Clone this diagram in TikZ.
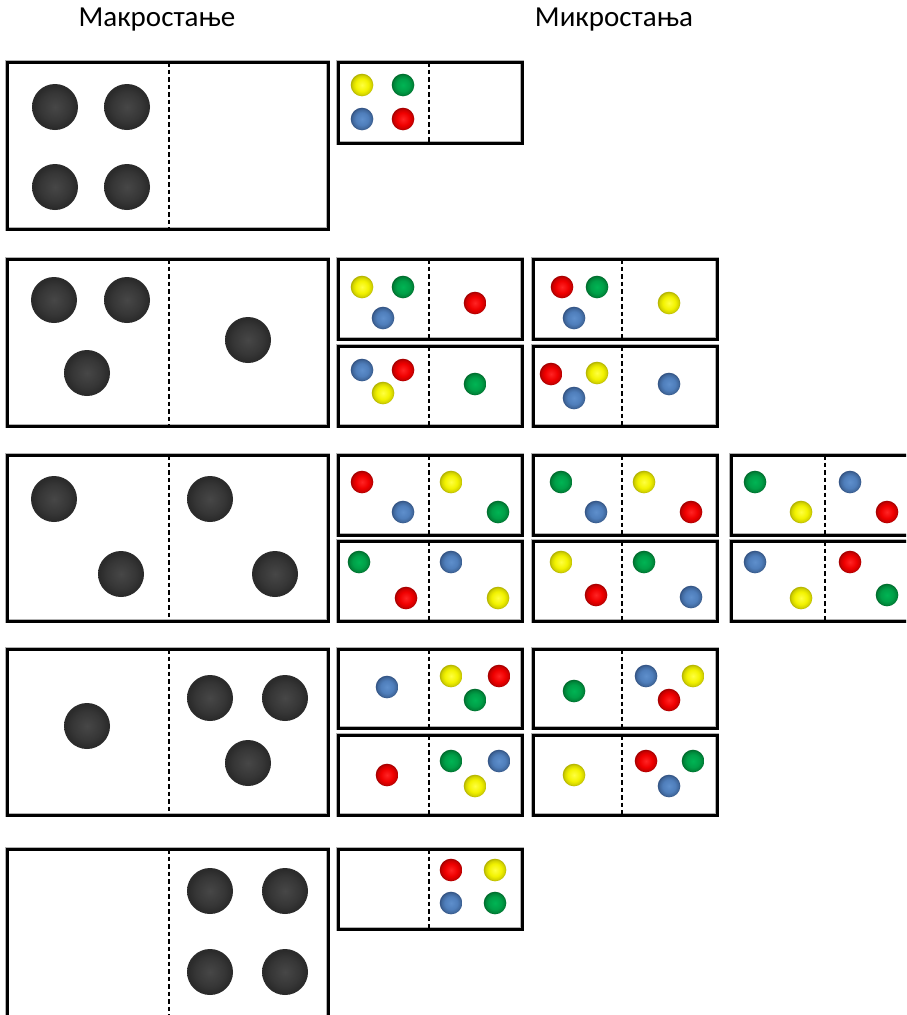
\documentclass[tikz,border=0pt]{standalone}
\usepackage{fontspec}
\setmainfont{Carlito}
\definecolor{dkA}{HTML}{474747}
\definecolor{dkB}{HTML}{363636}
\definecolor{dkC}{HTML}{2B2B2B}
\definecolor{yA}{HTML}{FFFF40}
\definecolor{yB}{HTML}{F2F200}
\definecolor{yC}{HTML}{D4D400}
\definecolor{yD}{HTML}{B0B000}
\definecolor{rA}{HTML}{FF2424}
\definecolor{rB}{HTML}{F00000}
\definecolor{rC}{HTML}{CC0000}
\definecolor{rD}{HTML}{A00000}
\definecolor{gA}{HTML}{00B454}
\definecolor{gB}{HTML}{00A048}
\definecolor{gC}{HTML}{00863A}
\definecolor{gD}{HTML}{006A2C}
\definecolor{bA}{HTML}{5E8FCC}
\definecolor{bB}{HTML}{4F7EBB}
\definecolor{bC}{HTML}{41699E}
\definecolor{bD}{HTML}{325282}
\pgfdeclareradialshading{darkball}{\pgfpoint{0bp}{0bp}}{color(0bp)=(dkA);color(16bp)=(dkB);color(23bp)=(dkC);color(25bp)=(dkC);color(50bp)=(dkC)}
\pgfdeclareradialshading{Yball}{\pgfpoint{0bp}{0bp}}{color(0bp)=(yA);color(14bp)=(yB);color(21bp)=(yC);color(25bp)=(yD);color(50bp)=(yD)}
\pgfdeclareradialshading{Rball}{\pgfpoint{0bp}{0bp}}{color(0bp)=(rA);color(14bp)=(rB);color(21bp)=(rC);color(25bp)=(rD);color(50bp)=(rD)}
\pgfdeclareradialshading{Gball}{\pgfpoint{0bp}{0bp}}{color(0bp)=(gA);color(14bp)=(gB);color(21bp)=(gC);color(25bp)=(gD);color(50bp)=(gD)}
\pgfdeclareradialshading{Bball}{\pgfpoint{0bp}{0bp}}{color(0bp)=(bA);color(14bp)=(bB);color(21bp)=(bC);color(25bp)=(bD);color(50bp)=(bD)}
\newcommand\statebox[5]{%
  \draw[halo] (#1,#2) rectangle (#3,#4);
  \draw[divider] (#5,#2) -- (#5,#4);
  \draw[frame] (#1,#2) rectangle (#3,#4);}
\newcommand\bigball[2]{\shade[shading=darkball] (#1,#2) circle[radius=23];}
\newcommand\smallball[3]{\shade[shading=#1ball] (#2,#3) circle[radius=11.3];}
\begin{document}
\begin{tikzpicture}[x=1pt,y=-1pt,
  frame/.style={draw=black,line width=3pt},
  halo/.style={draw=black!30,line width=4.6pt},
  divider/.style={draw=black,line width=1.2pt,dash pattern=on 4.5pt off 3pt},
  title/.style={font=\fontsize{29}{33}\selectfont,inner sep=0pt,anchor=center}]
\useasboundingbox (0,0) rectangle (906,1015);
\clip (0,0) rectangle (906,1015);
\fill[white] (0,0) rectangle (906,1015);
\node[title] (macro) at (157,20) {Макростање};
\node[title] (micro) at (614,20) {Микростања};
% macrostate boxes
\statebox{7}{62}{328}{229}{169}
\statebox{7}{259}{328}{426}{169}
\statebox{7}{455}{328}{621}{169}
\statebox{7}{649}{328}{815}{169}
\statebox{7}{849}{328}{1019}{169}
% microstate boxes
\statebox{338}{62}{522}{143}{429}
\statebox{338}{259}{522}{339}{429}
\statebox{533}{259}{717}{339}{622}
\statebox{338}{346}{522}{426}{429}
\statebox{533}{346}{717}{426}{622}
\statebox{338}{455}{522}{535}{429}
\statebox{533}{455}{717}{535}{622}
\statebox{731}{455}{915}{535}{825}
\statebox{338}{541}{522}{621}{429}
\statebox{533}{541}{717}{621}{622}
\statebox{731}{541}{915}{621}{825}
\statebox{338}{649}{522}{728}{429}
\statebox{533}{649}{717}{728}{622}
\statebox{338}{735}{522}{815}{429}
\statebox{533}{735}{717}{815}{622}
\statebox{338}{849}{522}{929}{429}
% macro balls
\foreach \x/\y in {55/107,127/107,55/187,127/187,
  54/300,127/300,87/373,248/340,
  54/499,121/574,210/499,275/574,
  87/726,210/698,285/698,248/763,
  210/891,285/891,210/972,285/972}
  {\bigball{\x}{\y}}
% micro balls
\foreach \c/\x/\y in {Y/362/85,G/403/85,B/362/119,R/403/119,
  Y/362/287,G/403/287,B/383/318,R/475/303,
  R/562/287,G/597/287,B/574/318,Y/669/303,
  B/362/370,R/403/370,Y/383/393,G/475/384,
  R/551/374,Y/597/373,B/574/398,B/669/384,
  R/362/482,B/403/512,Y/451/482,G/498/512,
  G/561/482,B/596/512,Y/644/482,R/691/512,
  G/755/482,Y/801/512,B/850/482,R/887/512,
  G/359/562,R/406/598,B/451/562,Y/498/598,
  Y/561/562,R/596/595,G/644/562,B/691/597,
  B/755/562,Y/801/598,R/850/562,G/887/595,
  B/387/687,Y/451/676,R/499/676,G/475/700,
  G/574/691,B/646/676,Y/693/676,R/669/700,
  R/387/775,G/451/761,B/499/761,Y/475/786,
  Y/574/775,R/646/761,G/693/761,B/669/786,
  R/451/870,Y/495/870,B/451/903,G/495/903}
  {\smallball{\c}{\x}{\y}}
\end{tikzpicture}
\end{document}
